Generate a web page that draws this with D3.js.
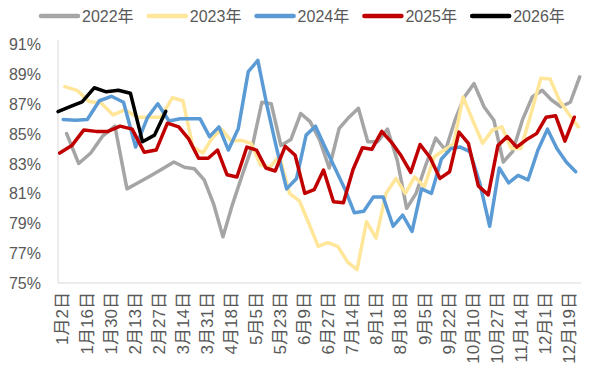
<!DOCTYPE html>
<html><head><meta charset="utf-8">
<script src="https://cdn.jsdelivr.net/npm/d3@7/dist/d3.min.js"></script>
<style>body{margin:0;background:#fff}svg{display:block}</style>
</head><body><svg id="c" width="589" height="374"></svg>
<script>
// ---- data ----
const seriesNames = ["2022年", "2023年", "2024年", "2025年", "2026年"];
const seriesColors = ["#A5A5A5", "#FFE699", "#5B9BD5", "#C00000", "#000000"];
// weekly (Friday) observations, first date of each year
const firstDates = ["2022-01-07", "2023-01-06", "2024-01-05", "2025-01-03", "2026-01-02"];
const xLabels = ["1月2日","1月16日","1月30日","2月13日","2月27日","3月14日","3月31日","4月18日","5月5日","5月23日","6月9日","6月27日","7月14日","8月1日","8月18日","9月5日","9月22日","10月10日","10月27日","11月14日","12月1日","12月19日"];
const yTicks = [75, 77, 79, 81, 83, 85, 87, 89, 91];

const v2022 = [85.0,83.0,83.7,84.85,85.5,81.3,81.75,82.2,82.65,83.1,82.75,82.65,81.9,80.3,78.1,80.3,82.3,84.2,87.1,87.0,84.2,84.6,86.35,85.8,84.6,82.7,85.35,86.1,86.7,84.45,84.45,85.3,83.2,80.0,81.0,82.9,84.7,83.9,85.9,87.45,88.35,86.8,85.9,83.1,83.8,85.9,87.45,87.9,87.25,86.8,87.1,88.8];
const v2023 = [88.15,87.9,87.15,87.05,86.25,86.6,86.1,86.1,86.1,87.4,87.2,84.1,83.7,84.7,85.3,84.5,84.55,84.35,82.9,82.75,83.5,81.0,80.5,79.0,77.45,77.7,77.45,76.4,75.9,79.1,78.0,81.0,82.0,81.0,82.1,81.45,83.45,83.9,84.3,87.45,85.9,84.35,85.25,85.45,84.0,84.0,86.3,88.7,88.65,87.2,86.3,85.45];
const v2024 = [85.95,85.9,85.95,87.2,87.5,87.1,84.1,86.1,87.0,85.85,86.0,86.0,86.0,84.8,85.45,83.9,85.35,89.15,89.9,86.8,84.0,81.3,82.0,84.9,85.5,84.1,82.7,81.3,79.7,79.8,80.75,80.75,78.8,79.55,78.45,81.3,81.0,83.3,84.0,84.1,83.8,81.7,78.8,82.7,81.7,82.2,81.9,83.9,85.3,84.0,83.1,82.45];
const v2025 = [83.7,84.2,85.25,85.15,85.15,85.5,85.3,83.75,83.9,85.7,85.45,84.65,83.35,83.35,83.9,82.25,82.1,84.1,83.9,82.7,82.5,84.15,83.55,81.0,81.25,82.56,80.44,80.37,82.6,84.05,83.95,85.15,84.4,83.5,82.4,84.27,83.4,82.0,82.45,85.1,84.35,81.5,80.9,84.2,84.8,84.1,84.6,85.0,86.1,86.2,84.5,86.1];
const v2026 = [86.47,86.8,87.13,88.07,87.8,87.9,87.7,84.46,84.9,86.5];
const seriesValues = [v2022, v2023, v2024, v2025, v2026];

// ---- layout ----
const W = 589, H = 374;
const plotLeft = 58, plotTop = 44, plotBottom = 283, labelStep = 24.14;
const font = "'Liberation Sans','Noto Sans CJK SC',sans-serif";
const textColor = "#595959";

const refYear = 2025;
const dayOfYear = (m, d) => d3.timeDay.count(new Date(refYear, 0, 1), new Date(refYear, m, d));
const labelDays = xLabels.map(s => { const m = s.match(/(\d+)月(\d+)日/); return dayOfYear(+m[1] - 1, +m[2]); });
const endDay = dayOfYear(11, 31);

const x = d3.scaleLinear()
  .domain(labelDays)
  .range(labelDays.map((_, i) => plotLeft + i * labelStep));
const y = d3.scaleLinear().domain([75, 91]).range([plotBottom, plotTop]);

const svg = d3.select("#c");
svg.append("rect").attr("width", W).attr("height", H).attr("fill", "#fff");

// axes lines
svg.append("line").attr("x1", plotLeft).attr("x2", plotLeft)
  .attr("y1", y(91) - 4).attr("y2", plotBottom).attr("stroke", "#D9D9D9").attr("stroke-width", 1);
svg.append("line").attr("x1", plotLeft).attr("x2", x(endDay))
  .attr("y1", plotBottom).attr("y2", plotBottom).attr("stroke", "#D9D9D9").attr("stroke-width", 1);

// y axis labels
const yAxis = d3.axisLeft(y).tickValues(yTicks).tickFormat(d => d + "%").tickSize(0).tickPadding(0);
const gy = svg.append("g").attr("transform", `translate(${41},0)`).call(yAxis);
gy.select(".domain").remove();
gy.selectAll("text").attr("font-family", font).attr("font-size", 16).attr("fill", textColor).attr("dy", "0.35em");

// x axis labels
const xAxis = d3.axisBottom(x).tickValues(labelDays).tickFormat((d, i) => xLabels[i]).tickSize(0);
const gx = svg.append("g").attr("transform", `translate(0,${plotBottom})`).call(xAxis);
gx.select(".domain").remove();
gx.selectAll("text")
  .attr("font-family", font).attr("font-size", 17).attr("fill", textColor)
  .attr("text-anchor", "end")
  .attr("transform", "rotate(-90)")
  .attr("x", -9).attr("y", 4).attr("dx", 0).attr("dy", "0.35em");

// series
const line = d3.line().x(d => x(d.day)).y(d => y(d.v));
seriesValues.forEach((vals, si) => {
  const start = new Date(firstDates[si] + "T00:00:00");
  const pts = vals.map((v, i) => {
    const dt = d3.timeDay.offset(start, 7 * i);
    return { day: dayOfYear(dt.getMonth(), dt.getDate()), v };
  });
  svg.append("path").datum(pts)
    .attr("d", line).attr("fill", "none")
    .attr("stroke", seriesColors[si]).attr("stroke-width", 3.5)
    .attr("stroke-linejoin", "round").attr("stroke-linecap", "round");
});

// legend
const lg = svg.append("g").attr("transform", "translate(41,16)");
seriesNames.forEach((n, i) => {
  const g = lg.append("g").attr("transform", `translate(${i * 107.8},0)`);
  g.append("line").attr("x1", 0).attr("x2", 37).attr("y1", 0).attr("y2", 0)
    .attr("stroke", seriesColors[i]).attr("stroke-width", 4.5).attr("stroke-linecap", "round");
  g.append("text").attr("x", 41).attr("y", 0).attr("dy", "0.35em")
    .attr("font-family", font).attr("font-size", 16).attr("fill", textColor).text(n);
});
</script></body></html>
